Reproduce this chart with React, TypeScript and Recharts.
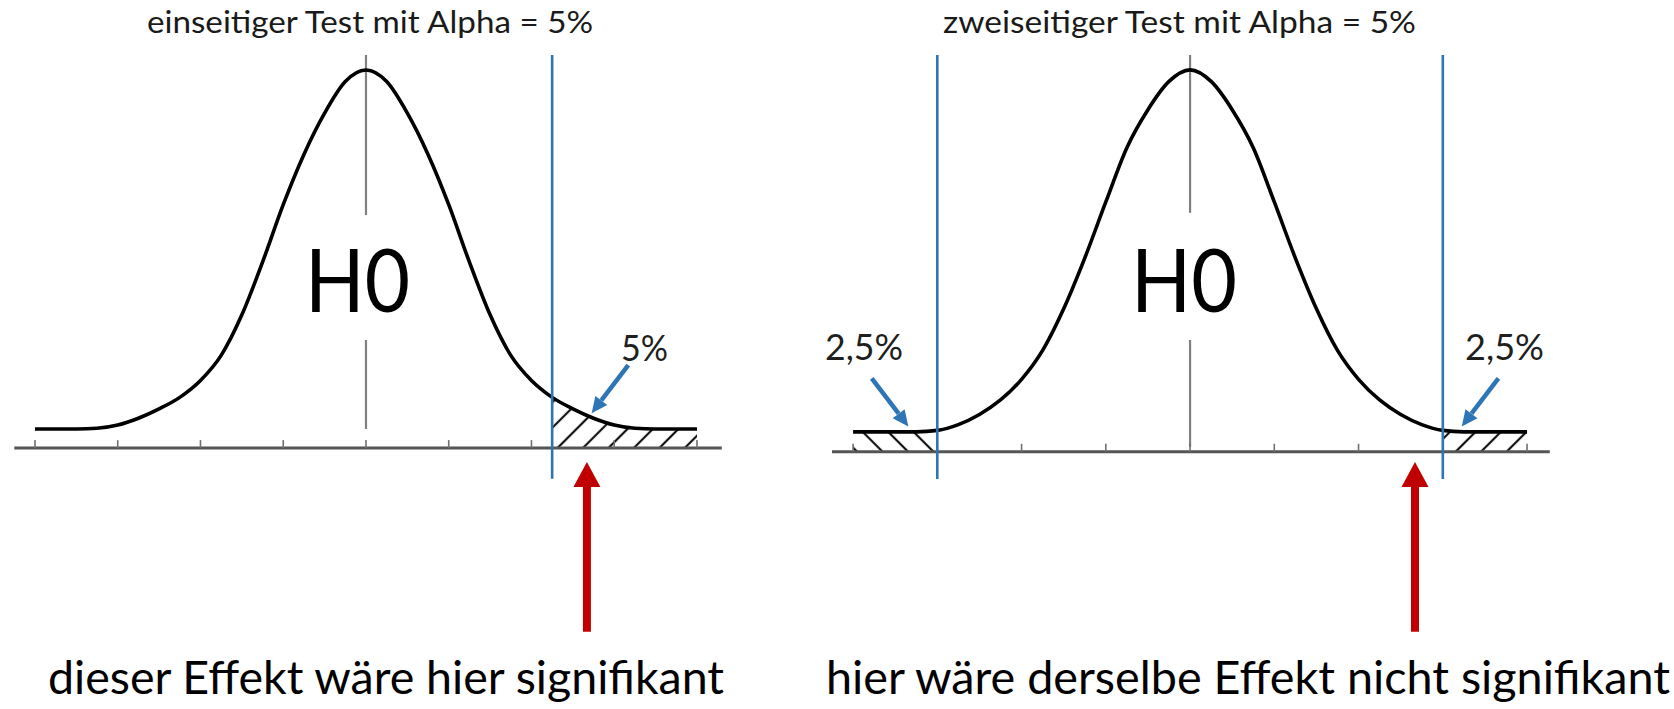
import { Area, ComposedChart, Line, ReferenceLine, XAxis, YAxis } from "recharts";

// x positions in tick units (ticks at -4 … 4), 0 = centre of H0
const xValues = [-4, -3.5, -3.25, -3, -2.75, -2.5, -2.25, -2, -1.75, -1.5, -1.25, -1, -0.75, -0.5, -0.25, 0, 0.25, 0.5, 0.75, 1, 1.25, 1.5, 1.75, 2, 2.25, 2.5, 2.75, 3, 3.25, 3.5, 4];
// curve heights: 0 = flat tail, 1 = peak
const h0OneSided = [0, 0, 0.002, 0.011, 0.03, 0.056, 0.088, 0.135, 0.205, 0.318, 0.465, 0.625, 0.765, 0.88, 0.968, 1, 0.968, 0.88, 0.765, 0.625, 0.465, 0.318, 0.205, 0.135, 0.088, 0.056, 0.03, 0.011, 0.002, 0, 0];
const h0TwoSided = [0, 0, 0, 0.004, 0.02, 0.048, 0.088, 0.145, 0.225, 0.34, 0.48, 0.635, 0.785, 0.89, 0.968, 1, 0.968, 0.89, 0.785, 0.635, 0.48, 0.34, 0.225, 0.145, 0.088, 0.048, 0.02, 0.004, 0, 0, 0];
const tickValues = [-4, -3, -2, -1, 0, 1, 2, 3, 4];
const criticalOneSided = 2.25;
const criticalTwoSided = [-3, 3];
const effectSize = 2.67;

const titles = ["einseitiger Test mit Alpha = 5%", "zweiseitiger Test mit Alpha = 5%"];
const captions = ["dieser Effekt wäre hier signifikant", "hier wäre derselbe Effekt nicht signifikant"];
const tailLabels = ["5%", "2,5%"];

const oneSidedData = xValues.map((x, i) => ({
  x,
  h0: h0OneSided[i],
  upper: x >= criticalOneSided ? h0OneSided[i] : null,
}));

const twoSidedData = xValues.map((x, i) => ({
  x,
  h0: h0TwoSided[i],
  lower: x <= criticalTwoSided[0] ? h0TwoSided[i] : null,
  upper: x >= criticalTwoSided[1] ? h0TwoSided[i] : null,
}));

const BLUE = "#2E75B6";
const RED = "#C00000";
const FONT = "Lato, 'Open Sans', sans-serif";

function arrowShape(color: string, shaft: number, headLen: number, headWidth: number) {
  return (p: any) => {
    const { x1, y1, x2, y2 } = p;
    const dx = x2 - x1;
    const dy = y2 - y1;
    const len = Math.hypot(dx, dy) || 1;
    const ux = dx / len;
    const uy = dy / len;
    const bx = x2 - ux * headLen;
    const by = y2 - uy * headLen;
    const nx = -uy * headWidth / 2;
    const ny = ux * headWidth / 2;
    return (
      <g>
        <line x1={x1} y1={y1} x2={bx} y2={by} stroke={color} strokeWidth={shaft} />
        <polygon points={`${x2},${y2} ${bx + nx},${by + ny} ${bx - nx},${by - ny}`} fill={color} />
      </g>
    );
  };
}

const blueArrow = arrowShape(BLUE, 4.5, 16, 15);
const redArrow = arrowShape(RED, 8, 25, 27);

interface PanelProps {
  left: number;
  width: number;
  margin: { top: number; right: number; bottom: number; left: number };
  xDomain: [number, number];
  yDomain: [number, number];
  axisLevel: number;
  tickLen: number;
  data: any[];
  critical: number[];
  critBottom: number;
  centre: [number, number][];
  blueArrows: { x: number; y: number }[][];
  redArrow: { tip: number; tail: number };
}

function Panel(p: PanelProps) {
  const top = p.yDomain[1];
  return (
    <div style={{ position: "absolute", left: p.left, top: 0 }}>
      <ComposedChart width={p.width} height={709} data={p.data} margin={p.margin}>
        <XAxis type="number" dataKey="x" domain={p.xDomain} allowDataOverflow hide />
        <YAxis type="number" domain={p.yDomain} allowDataOverflow hide />

        {p.data[0].lower !== undefined && (
          <Area dataKey="lower" type="monotone" baseValue={p.axisLevel} fill="url(#hatchDown)" fillOpacity={1} stroke="none" isAnimationActive={false} activeDot={false} />
        )}
        <Area dataKey="upper" type="monotone" baseValue={p.axisLevel} fill="url(#hatchUp)" fillOpacity={1} stroke="none" isAnimationActive={false} activeDot={false} />

        {p.centre.map(([a, b], i) => (
          <ReferenceLine key={`c${i}`} segment={[{ x: 0, y: a }, { x: 0, y: b }]} stroke="#808080" strokeWidth={2.2} />
        ))}

        <ReferenceLine y={p.axisLevel} stroke="#555" strokeWidth={3} />
        {tickValues.map((t) => (
          <ReferenceLine key={`t${t}`} segment={[{ x: t, y: p.axisLevel }, { x: t, y: p.axisLevel + p.tickLen }]} stroke="#707070" strokeWidth={1.6} />
        ))}

        <Line dataKey="h0" type="monotone" stroke="#000" strokeWidth={3.6} dot={false} activeDot={false} isAnimationActive={false} />

        {p.critical.map((c) => (
          <ReferenceLine key={`k${c}`} segment={[{ x: c, y: top }, { x: c, y: p.critBottom }]} stroke={BLUE} strokeWidth={2.6} />
        ))}

        {p.blueArrows.map((seg, i) => (
          <ReferenceLine key={`b${i}`} segment={seg} shape={blueArrow} />
        ))}

        <ReferenceLine segment={[{ x: effectSize, y: p.redArrow.tail }, { x: effectSize, y: p.redArrow.tip }]} shape={redArrow} />
      </ComposedChart>
    </div>
  );
}

export default function App() {
  return (
    <div style={{ position: "absolute", left: 0, top: 0, width: 1674, height: 709, background: "#fff", overflow: "hidden" }}>
      <svg width={0} height={0} style={{ position: "absolute" }}>
        <defs>
          <pattern id="hatchUp" patternUnits="userSpaceOnUse" width={18} height={18} patternTransform="rotate(45)">
            <line x1={9} y1={0} x2={9} y2={18} stroke="#111" strokeWidth={2.2} />
          </pattern>
          <pattern id="hatchDown" patternUnits="userSpaceOnUse" width={18} height={18} patternTransform="rotate(-45)">
            <line x1={9} y1={0} x2={9} y2={18} stroke="#111" strokeWidth={2.2} />
          </pattern>
        </defs>
      </svg>

      <Panel
        left={0}
        width={740}
        margin={{ top: 55, right: 18.2, bottom: 69, left: 14.3 }}
        xDomain={[-4.25, 4.3]}
        yDomain={[-0.588, 1.042]}
        axisLevel={-0.053}
        tickLen={0.022}
        data={oneSidedData}
        critical={[criticalOneSided]}
        critBottom={-0.139}
        centre={[[1.042, 0.596], [0.248, 0.0]]}
        blueArrows={[[{ x: 3.17, y: 0.178 }, { x: 2.727, y: 0.044 }]]}
        redArrow={{ tip: -0.092, tail: -0.565 }}
      />
      <Panel
        left={800}
        width={874}
        margin={{ top: 55, right: 124.2, bottom: 69, left: 32 }}
        xDomain={[-4.25, 4.27]}
        yDomain={[-0.575, 1.041]}
        axisLevel={-0.055}
        tickLen={0.022}
        data={twoSidedData}
        critical={criticalTwoSided}
        critBottom={-0.13}
        centre={[[1.041, 0.605], [0.254, -0.041]]}
        blueArrows={[
          [{ x: -3.778, y: 0.148 }, { x: -3.344, y: 0.015 }],
          [{ x: 3.66, y: 0.148 }, { x: 3.225, y: 0.015 }],
        ]}
        redArrow={{ tip: -0.083, tail: -0.552 }}
      />

      <svg width={1674} height={709} style={{ position: "absolute", left: 0, top: 0, pointerEvents: "none" }} fontFamily={FONT}>
        <text x={147} y={33} fontSize={30} fill="#1a1a1a" textLength={446} lengthAdjust="spacingAndGlyphs">{titles[0]}</text>
        <text x={943} y={33} fontSize={30} fill="#1a1a1a" textLength={473} lengthAdjust="spacingAndGlyphs">{titles[1]}</text>

        <text x={305} y={312} fontSize={88} fill="#000" textLength={105} lengthAdjust="spacingAndGlyphs">H0</text>
        <text x={1131} y={312} fontSize={88} fill="#000" textLength={106} lengthAdjust="spacingAndGlyphs">H0</text>

        <text x={621} y={361} fontSize={37} fill="#1f1f1f" textLength={47} lengthAdjust="spacingAndGlyphs">{tailLabels[0]}</text>
        <text x={825} y={360} fontSize={37} fill="#1f1f1f" textLength={78} lengthAdjust="spacingAndGlyphs">{tailLabels[1]}</text>
        <text x={1465} y={360} fontSize={37} fill="#1f1f1f" textLength={79} lengthAdjust="spacingAndGlyphs">{tailLabels[1]}</text>

        <text x={48} y={694} fontSize={46} fill="#000" textLength={676} lengthAdjust="spacingAndGlyphs">{captions[0]}</text>
        <text x={826} y={694} fontSize={46} fill="#000" textLength={844} lengthAdjust="spacingAndGlyphs">{captions[1]}</text>
      </svg>
    </div>
  );
}
